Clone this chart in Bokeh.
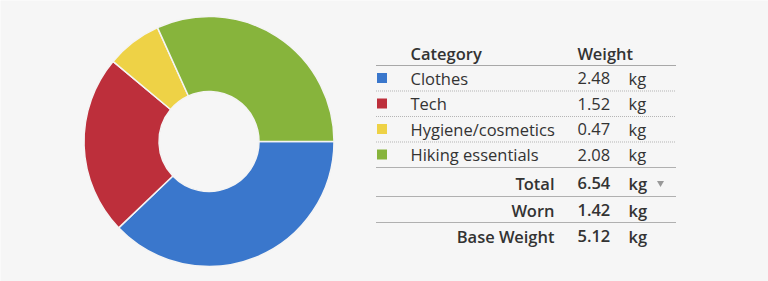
import numpy as np
from bokeh.plotting import figure
from bokeh.models import Range1d, ColumnDataSource
from bokeh.core.properties import value
from bokeh.embed import file_html
from bokeh.resources import INLINE

# ---- data ----
categories = ["Clothes", "Tech", "Hygiene/cosmetics", "Hiking essentials"]
weights = [2.48, 1.52, 0.47, 2.08]
colors = ["#3a77cc", "#bd2f3b", "#eed246", "#87b43c"]
summary_labels = ["Total", "Worn", "Base Weight"]
summary_values = [6.54, 1.42, 5.12]
unit = "kg"
headers = ["Category", "Weight"]

# ---- layout / style ----
W, H = 768, 281
BG = "#f6f6f6"
TXT = "#333333"
FONT = value("Open Sans")
BFONT = value("Open Sans SemiBold, Open Sans")
FS = "16.5px"


def Y(px):
    return H - px


p = figure(width=W, height=H, x_range=Range1d(0, W), y_range=Range1d(0, H),
           output_backend="svg", toolbar_location=None, min_border=0,
           x_axis_location=None, y_axis_location=None)
p.grid.visible = False
p.outline_line_color = None
p.background_fill_color = BG
p.border_fill_color = BG

# ---- donut ----
w = np.array(weights)
frac = w / w.sum()
cum = np.concatenate([[0], np.cumsum(frac)])
start = -cum[1:] * 2 * np.pi
end = -cum[:-1] * 2 * np.pi
cx, cy = 208.5, Y(141)
donut = ColumnDataSource(dict(start=start, end=end, color=colors))
p.annular_wedge(x=cx, y=cy, inner_radius=50, outer_radius=125,
                start_angle="start", end_angle="end", color="color",
                line_color="#f4f4f4", line_width=1.5, source=donut)

# ---- table ----
x_sq, x_cat, x_val, x_unit, x_lab_r = 381.5, 410, 577, 628, 554
line_x0, line_x1 = 375.5, 675.5
row_y = [77.5, 103, 128.5, 154]
sum_y = [182.5, 209.5, 235.5]
head_y = 52.5

# headers
p.text(x=[x_cat, x_val], y=[Y(head_y)] * 2, text=headers, text_font=BFONT,
       text_font_size=FS, text_color=TXT,
       text_baseline="middle", text_align="left")

# header rule
p.segment(x0=[line_x0], y0=[Y(65)], x1=[line_x1], y1=[Y(65)], line_color="#a8a8a8", line_width=1)
# dotted separators
dot_y = [90.5, 116, 141.5]
p.segment(x0=[line_x0] * 3, y0=[Y(v) for v in dot_y], x1=[line_x1] * 3, y1=[Y(v) for v in dot_y],
          line_color="#b5b5b5", line_width=1, line_dash="1 1")
# solid rules
sol_y = [167, 196, 222]
p.segment(x0=[line_x0] * 3, y0=[Y(v) for v in sol_y], x1=[line_x1] * 3, y1=[Y(v) for v in sol_y],
          line_color="#b0b0b0", line_width=1)

# colour squares
p.rect(x=[x_sq] * len(colors), y=[Y(v) for v in row_y], width=10, height=10,
       fill_color=colors, line_color=None)

rows = ColumnDataSource(dict(y=[Y(v) for v in row_y], cat=categories,
                             val=["%.2f" % v for v in weights], unit=[unit] * len(weights)))
for col, xx in (("cat", x_cat), ("val", x_val), ("unit", x_unit)):
    p.text(x=xx, y="y", text=col, source=rows, text_font=FONT, text_font_size=FS,
           text_color=TXT, text_baseline="middle", text_align="left")

sums = ColumnDataSource(dict(y=[Y(v) for v in sum_y], lab=summary_labels,
                             val=["%.2f" % v for v in summary_values], unit=[unit] * 3))
p.text(x=x_lab_r, y="y", text="lab", source=sums, text_font=BFONT, text_font_size=FS,
       text_color=TXT, text_baseline="middle", text_align="right")
for col, xx in (("val", x_val), ("unit", x_unit)):
    p.text(x=xx, y="y", text=col, source=sums, text_font=BFONT, text_font_size=FS,
           text_color=TXT, text_baseline="middle", text_align="left")

# dropdown caret
p.scatter(x=[660], y=[Y(182.5)], marker="inverted_triangle", size=7,
          fill_color="#999999", line_color=None)

open("out.html", "w").write(file_html(p, INLINE))
